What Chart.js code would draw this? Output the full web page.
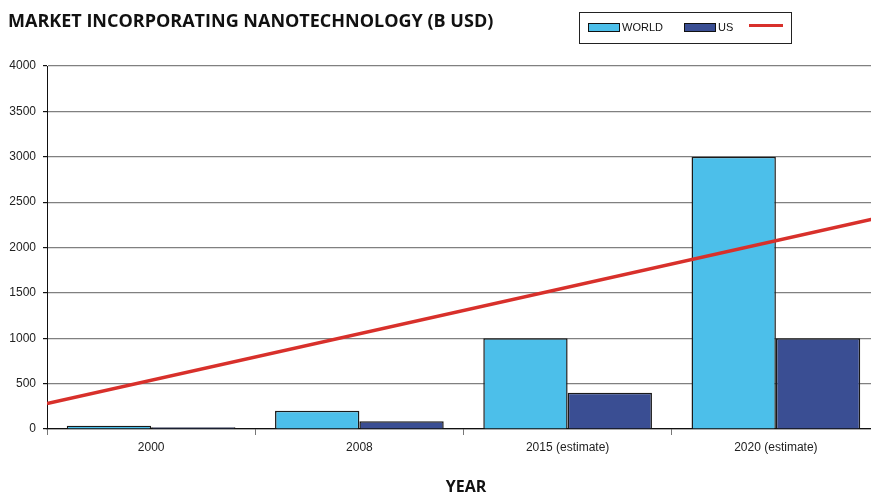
<!DOCTYPE html>
<html>
<head>
<meta charset="utf-8">
<script src="https://cdn.jsdelivr.net/npm/chart.js@4/dist/chart.umd.min.js"></script>
<style>
  html, body { margin: 0; padding: 0; background: #fff; overflow: hidden; }
  /* the plot runs a little past the right edge of the picture */
  #wrap { width: 871px; height: 494px; overflow: hidden; }
</style>
</head>
<body>
<div id="wrap"><canvas id="barChart" width="880" height="494"></canvas></div>
<script>
var years = ['2000', '2008', '2015 (estimate)', '2020 (estimate)'];
var worldValues = [35, 200, 1000, 3000];
var usValues = [20, 85, 400, 1000];
// trend line end points at the outer edges of the first and last category
var trendX = [-0.5, 3.5];
var trendY = [280, 2330];

var titleText = 'MARKET INCORPORATING NANOTECHNOLOGY (B USD)';
var xTitleText = 'YEAR';

function toPoints(values) {
    return values.map(function (v, i) { return { x: i, y: v }; });
}

var headerPlugin = {
    id: 'header',
    afterDraw: function (chart) {
        var ctx = chart.ctx;
        ctx.save();
        // title
        ctx.fillStyle = '#111';
        ctx.font = 'bold 18px "Open Sans", "Liberation Sans", sans-serif';
        ctx.textBaseline = 'alphabetic';
        ctx.textAlign = 'left';
        ctx.fillText(titleText, 8, 27, 486);

        // x axis title
        ctx.font = 'bold 16px "Open Sans", "Liberation Sans", sans-serif';
        ctx.textAlign = 'center';
        ctx.fillText(xTitleText, 466, 492, 48);

        // legend box
        ctx.textAlign = 'left';
        ctx.strokeStyle = '#222';
        ctx.lineWidth = 1;
        ctx.strokeRect(579.5, 12.5, 212, 31);

        var ds = chart.data.datasets;
        ctx.font = '11px "Liberation Sans", Arial, sans-serif';
        ctx.textBaseline = 'middle';
        var items = [{ i: 1, x: 588, tx: 622 }, { i: 2, x: 684, tx: 718 }];
        items.forEach(function (it) {
            ctx.fillStyle = ds[it.i].backgroundColor;
            ctx.fillRect(it.x, 23, 32, 9);
            ctx.strokeStyle = '#111';
            ctx.lineWidth = 1;
            ctx.strokeRect(it.x + 0.5, 23.5, 31, 8);
            ctx.fillStyle = '#111';
            ctx.fillText(ds[it.i].label, it.tx, 28);
        });
        ctx.strokeStyle = ds[0].borderColor;
        ctx.lineWidth = 3;
        ctx.beginPath();
        ctx.moveTo(749, 25.5);
        ctx.lineTo(783, 25.5);
        ctx.stroke();
        ctx.restore();
    }
};

var ctx = document.getElementById('barChart').getContext('2d');
var myChart = new Chart(ctx, {
    type: 'bar',
    data: {
        datasets: [{
            type: 'line',
            label: '',
            data: trendX.map(function (x, i) { return { x: x, y: trendY[i] }; }),
            borderColor: '#D8302B',
            borderWidth: 3.5,
            pointRadius: 0,
            fill: false,
            order: 0
        }, {
            label: 'WORLD',
            data: toPoints(worldValues),
            backgroundColor: '#4CBFEA',
            borderColor: '#1a1a1a',
            borderWidth: 1.5,
            categoryPercentage: 0.81,
            barPercentage: 1.0,
            order: 1
        }, {
            label: 'US',
            data: toPoints(usValues),
            backgroundColor: '#3A4E93',
            borderColor: '#1a1a1a',
            borderWidth: 1.5,
            categoryPercentage: 0.81,
            barPercentage: 1.0,
            order: 1
        }]
    },
    options: {
        responsive: false,
        animation: false,
        layout: { padding: { top: 66, right: 0, left: 0, bottom: 0 } },
        plugins: {
            legend: { display: false },
            title: { display: false },
            tooltip: { enabled: false }
        },
        scales: {
            x: {
                type: 'linear',
                min: -0.5,
                max: 3.5,
                offset: false,
                afterBuildTicks: function (scale) {
                    scale.ticks = years.map(function (y, i) { return { value: i }; });
                },
                grid: {
                    display: true,
                    offset: true,
                    drawOnChartArea: false,
                    drawTicks: true,
                    tickLength: 6,
                    tickColor: '#777'
                },
                border: { color: '#111', width: 1.2 },
                ticks: {
                    autoSkip: false,
                    maxRotation: 0,
                    color: '#222',
                    padding: 5,
                    font: { family: '"Liberation Sans", Arial, sans-serif', size: 12 },
                    callback: function (v, i) { return years[i]; }
                },
                afterFit: function (scale) { scale.height = 65; }
            },
            y: {
                min: 0,
                max: 4000,
                ticks: {
                    stepSize: 500,
                    color: '#222',
                    padding: 7,
                    font: { family: '"Liberation Sans", Arial, sans-serif', size: 12 },
                    callback: function (v) { return String(v); }
                },
                grid: {
                    color: '#808080',
                    lineWidth: 1.2,
                    tickLength: 4,
                    tickColor: '#111'
                },
                border: { color: '#111', width: 1 },
                afterFit: function (scale) { scale.width = 47; }
            }
        }
    },
    plugins: [headerPlugin]
});
</script>
</body>
</html>
